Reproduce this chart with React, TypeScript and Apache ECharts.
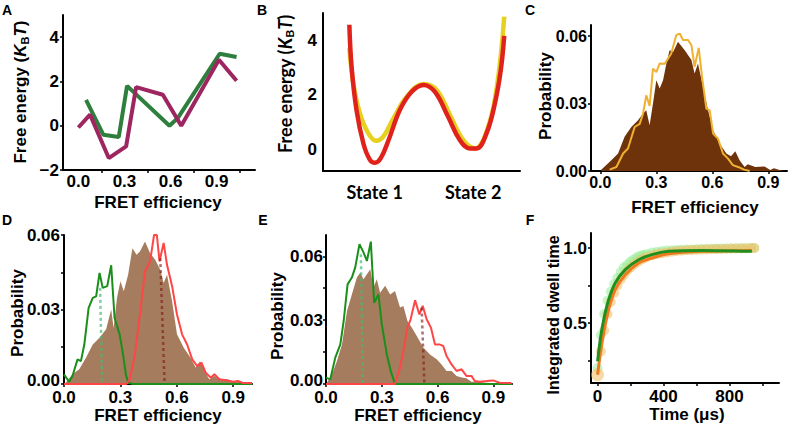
import React, { useEffect, useRef } from "react";
import * as echarts from "echarts";

const FONT = '"Liberation Sans", Arial, Helvetica, sans-serif';
const FONT_B = 'Lato, "Open Sans", sans-serif';

// ---------- Panel A ----------
const aGreen = [[0.05, 1.17], [0.163, -0.41], [0.263, -0.51], [0.317, 1.8], [0.593, 0], [0.648, 0.35], [0.92, 3.25], [1.03, 3.1]];
const aPurple = [[0.0, -0.08], [0.076, 0.5], [0.198, -1.46], [0.311, -0.93], [0.376, 1.74], [0.55, 1.4], [0.67, 0], [0.915, 2.98], [1.03, 2.03]];
const aXLabels = [0, 0.3, 0.6, 0.9];
const aXTicks = [0.15, 0.45, 0.75, 1.05];
const aYLabels = [-2, 0, 2, 4];

// ---------- Panel B ----------
const bRed = [[0.535, 4.57], [0.58, 3.03], [0.68, 1.44], [0.82, 0.21], [0.95, -0.38], [1.056, -0.5], [1.17, -0.34], [1.33, 0.33], [1.56, 1.44], [1.8, 2.11], [2.04, 2.36], [2.27, 2.11], [2.54, 1.19], [2.78, 0.33], [2.98, 0.03], [3.12, 0.03], [3.32, 0.58], [3.49, 1.68], [3.61, 2.91], [3.68, 4.16]];
const bYellow = [[0.535, 3.71], [0.615, 2.42], [0.75, 1.31], [0.92, 0.58], [1.076, 0.31], [1.22, 0.45], [1.43, 1.13], [1.7, 1.93], [2.04, 2.39], [2.31, 2.17], [2.58, 1.25], [2.85, 0.33], [3.09, 0.03], [3.32, 0.64], [3.53, 2.29], [3.68, 4.87]];
const bStates = ["State 1", "State 2"];
const bStatePos = [1.05, 3.05];
const bYLabels = [0, 2, 4];

// ---------- Panel C ----------
const cBrown = [[0.005, 0.0006], [0.059, 0.0048], [0.095, 0.0078], [0.13, 0.0152], [0.166, 0.0196], [0.202, 0.0226], [0.229, 0.0256], [0.246, 0.027], [0.264, 0.0204], [0.282, 0.03], [0.3, 0.0404], [0.318, 0.0367], [0.336, 0.0404], [0.354, 0.0479], [0.371, 0.0538], [0.39, 0.053], [0.416, 0.0575], [0.452, 0.0538], [0.488, 0.0494], [0.505, 0.0434], [0.523, 0.0479], [0.55, 0.0375], [0.577, 0.027], [0.604, 0.0181], [0.639, 0.0122], [0.675, 0.0078], [0.7, 0.0066], [0.723, 0.0088], [0.746, 0.0048], [0.773, 0.0018], [0.79, 0.003], [0.83, 0.0018], [0.88, 0.002], [0.91, 0.0005], [0.93, 0.0012], [0.96, 0.0004], [0.99, 0]];
const cYellow = [[0.05, 0.0006], [0.086, 0.0018], [0.122, 0.0078], [0.148, 0.01], [0.184, 0.0196], [0.211, 0.021], [0.229, 0.0256], [0.246, 0.0337], [0.264, 0.029], [0.282, 0.0456], [0.3, 0.044], [0.318, 0.0479], [0.345, 0.0477], [0.38, 0.0523], [0.407, 0.0605], [0.425, 0.0612], [0.443, 0.0583], [0.47, 0.0583], [0.488, 0.056], [0.505, 0.0464], [0.527, 0.0548], [0.545, 0.0418], [0.568, 0.0278], [0.586, 0.027], [0.604, 0.0167], [0.63, 0.0145], [0.657, 0.0078], [0.684, 0.0055], [0.71, 0.0026], [0.738, 0.0018], [0.77, 0.0006], [0.8, 0]];
const cXLabels = [0, 0.3, 0.6, 0.9];
const cYLabels = [0, 0.03, 0.06];

// ---------- Panel D ----------
const dBrown = [[0.009, 0.0005], [0.045, 0.0039], [0.081, 0.0059], [0.117, 0.0106], [0.153, 0.0159], [0.189, 0.0186], [0.224, 0.022], [0.251, 0.03], [0.264, 0.0226], [0.282, 0.0347], [0.3, 0.0414], [0.318, 0.0373], [0.341, 0.044], [0.364, 0.0547], [0.386, 0.052], [0.404, 0.0534], [0.431, 0.0574], [0.458, 0.0527], [0.485, 0.05], [0.512, 0.046], [0.53, 0.0407], [0.548, 0.044], [0.575, 0.0333], [0.601, 0.02], [0.637, 0.0146], [0.673, 0.0106], [0.7, 0.0066], [0.724, 0.0092], [0.749, 0.0052], [0.772, 0.0019], [0.8, 0.0032], [0.835, 0.0015], [0.87, 0.0019], [0.907, 0.0009], [0.943, 0.0008], [0.978, 0.0003], [1.0, 0.0001]];
const dGreen = [[0, 0.0039], [0.027, 0.0009], [0.045, 0.0032], [0.072, 0.0099], [0.09, 0.0092], [0.108, 0.0159], [0.131, 0.0307], [0.153, 0.0347], [0.171, 0.0353], [0.189, 0.0447], [0.206, 0.0387], [0.23, 0.0394], [0.251, 0.0478], [0.269, 0.0266], [0.296, 0.02], [0.314, 0.0119], [0.329, 0.0039], [0.341, 0.0005], [0.368, 0], [1.0, 0]];
const dRed = [[0, 0], [0.332, 0], [0.35, 0.0019], [0.377, 0.0119], [0.404, 0.028], [0.431, 0.0454], [0.458, 0.0494], [0.479, 0.06], [0.494, 0.06], [0.508, 0.0494], [0.53, 0.0568], [0.548, 0.048], [0.575, 0.0394], [0.601, 0.028], [0.628, 0.02], [0.655, 0.0159], [0.682, 0.0099], [0.709, 0.0072], [0.731, 0.0086], [0.754, 0.0046], [0.781, 0.0025], [0.8, 0.0039], [0.826, 0.0019], [0.862, 0.0015], [0.898, 0.0009], [0.925, 0.0012], [0.951, 0.0004], [1.0, 0.0004]];
const dGreenMark = [[0.192, 0.0387], [0.203, 0]];
const dRedMark = [[0.512, 0.0507], [0.535, 0]];
const dXLabels = [0, 0.3, 0.6, 0.9];
const dYLabels = [0, 0.03, 0.06];

// ---------- Panel E ----------
const eBrown = [[0.005, 0.0006], [0.032, 0.0045], [0.059, 0.0108], [0.086, 0.0186], [0.113, 0.0343], [0.139, 0.0421], [0.166, 0.05], [0.184, 0.0523], [0.202, 0.0492], [0.22, 0.0516], [0.238, 0.0539], [0.255, 0.0453], [0.273, 0.0492], [0.291, 0.0429], [0.318, 0.0461], [0.345, 0.0421], [0.371, 0.0437], [0.398, 0.0359], [0.416, 0.0367], [0.438, 0.0296], [0.461, 0.0265], [0.488, 0.0226], [0.523, 0.0171], [0.559, 0.0139], [0.595, 0.0116], [0.621, 0.0092], [0.648, 0.0061], [0.675, 0.0061], [0.702, 0.0038], [0.729, 0.003], [0.755, 0.0027], [0.782, 0.0011], [0.818, 0.0011], [0.863, 0.0006], [0.916, 0.0003], [0.996, 0.0002]];
const eGreen = [[0, 0.003], [0.023, 0.0022], [0.05, 0.0124], [0.077, 0.0186], [0.095, 0.0296], [0.116, 0.0468], [0.139, 0.05], [0.157, 0.0547], [0.18, 0.0657], [0.202, 0.0617], [0.22, 0.0578], [0.241, 0.0669], [0.259, 0.0382], [0.282, 0.0421], [0.3, 0.028], [0.327, 0.0139], [0.348, 0.0061], [0.371, 0], [1.0, 0]];
const eRed = [[0, 0], [0.371, 0], [0.398, 0.0077], [0.416, 0.0155], [0.438, 0.0265], [0.455, 0.0304], [0.479, 0.0393], [0.502, 0.0327], [0.52, 0.0367], [0.541, 0.0304], [0.564, 0.0265], [0.586, 0.0186], [0.609, 0.0186], [0.63, 0.0179], [0.648, 0.0132], [0.675, 0.0092], [0.702, 0.0061], [0.729, 0.0069], [0.755, 0.0038], [0.782, 0.0038], [0.8, 0.0014], [0.827, 0.0011], [0.863, 0.0014], [0.898, 0.0017], [0.934, 0.0006], [0.996, 0.0005]];
const eGreenMark = [[0.1875, 0.061], [0.198, 0]];
const eRedMark = [[0.514, 0.0359], [0.529, 0]];
const eXLabels = [0, 0.3, 0.6, 0.9];
const eYLabels = [0, 0.03, 0.06];

// ---------- Panel F ----------
const fGreenDots = [[0, 0.2], [20, 0.42], [40, 0.56], [60, 0.65], [80, 0.71], [100, 0.76], [120, 0.8], [140, 0.84], [160, 0.87], [180, 0.89], [200, 0.91], [220, 0.925], [240, 0.94], [260, 0.95], [280, 0.955], [300, 0.96], [330, 0.97], [360, 0.975], [390, 0.98], [420, 0.983], [450, 0.985], [480, 0.987], [510, 0.988], [540, 0.99], [570, 0.99], [600, 0.992], [630, 0.993], [660, 0.994], [690, 0.995], [720, 0.996], [750, 0.997], [780, 0.997], [810, 0.998], [840, 0.998], [870, 0.999], [900, 0.999], [930, 1.0], [950, 1.0]];
const fTanDots = [[0, 0.155], [20, 0.31], [40, 0.45], [60, 0.56], [80, 0.64], [100, 0.7], [120, 0.75], [140, 0.79], [160, 0.82], [180, 0.85], [200, 0.87], [220, 0.89], [240, 0.905], [260, 0.92], [280, 0.93], [300, 0.94], [330, 0.95], [360, 0.96], [390, 0.965], [420, 0.97], [450, 0.975], [480, 0.98], [510, 0.983], [540, 0.985], [570, 0.987], [600, 0.988], [630, 0.99], [660, 0.991], [690, 0.992], [720, 0.993], [750, 0.994], [780, 0.995], [810, 0.996], [840, 0.997], [870, 0.998], [900, 0.999], [930, 1.0], [950, 1.0]];
const fGreenFit = [[0, 0.244], [16, 0.389], [37, 0.522], [67, 0.655], [107, 0.767], [168, 0.856], [249, 0.922], [329, 0.956], [430, 0.978], [632, 0.984], [935, 0.978]];
const fOrangeFit = [[0, 0.155], [16, 0.289], [37, 0.433], [67, 0.589], [107, 0.722], [168, 0.822], [249, 0.9], [329, 0.933], [430, 0.962], [632, 0.978], [935, 0.984]];
const fXLabels = [0, 400, 800];
const fXTicks = [0, 200, 400, 600, 800, 1000];
const fYLabels = [0.5, 1.0];
const fYTicks = [0.25, 0.5, 0.75, 1.0];

function axis(o: any) {
  return {
    gridIndex: o.grid,
    type: "value",
    min: o.min,
    max: o.max,
    axisLine: { show: true, onZero: false, lineStyle: { color: "#000", width: 2 } },
    axisTick: o.ticks
      ? { show: true, inside: false, length: 3, customValues: o.ticks, lineStyle: { color: "#000", width: 1.5 } }
      : { show: false },
    axisLabel: o.labels
      ? {
          show: true,
          customValues: o.labels,
          formatter: o.fmt,
          margin: o.margin,
          color: "#000",
          fontSize: o.fs,
          fontWeight: "bold",
          fontFamily: o.ff || FONT,
          ...(o.rich ? { rich: o.rich } : {}),
        }
      : { show: false },
    splitLine: { show: false },
  };
}

const f1 = (v: number) => Number(v).toFixed(1);
const f2 = (v: number) => Number(v).toFixed(2);
// zero label lifted slightly so it clears the x-axis "0.0" label
const f2z = (v: number) => (Number(v) === 0 ? "{z|0.00}" : Number(v).toFixed(2));
const zRich = { z: { padding: [0, 0, 8, 0], fontSize: 17, fontWeight: "bold", fontFamily: FONT, color: "#000" } };
const stateFmt = (v: number) => (Number(v) < bStatePos[1] - 0.5 ? bStates[0] : bStates[1]);

function line(x: number, data: any, color: string, width: number, extra: any = {}) {
  return {
    type: "line",
    xAxisIndex: x,
    yAxisIndex: x,
    data,
    symbol: "none",
    showSymbol: false,
    lineStyle: { color, width },
    silent: true,
    ...extra,
  };
}

function area(x: number, data: any, color: string) {
  return {
    type: "line",
    xAxisIndex: x,
    yAxisIndex: x,
    data,
    symbol: "none",
    showSymbol: false,
    lineStyle: { width: 0, color },
    areaStyle: { color, opacity: 1 },
    silent: true,
  };
}

function txt(x: number, y: number, text: string, fs: number, rot = 0, ff = FONT) {
  return {
    type: "text",
    x,
    y,
    rotation: rot,
    style: { text, fill: "#000", fontSize: fs, fontWeight: "bold", fontFamily: ff, align: "center", verticalAlign: "middle" },
  };
}

function kbt(x: number, y: number, fs: number, ff: string) {
  return {
    type: "text",
    x,
    y,
    rotation: Math.PI / 2,
    style: {
      text: "{n|Free energy (}{i|K}{s|B}{i|T}{n|)}",
      fill: "#000",
      align: "center",
      verticalAlign: "middle",
      rich: {
        n: { fontSize: fs, fontWeight: "bold", fontFamily: ff, lineHeight: fs + 3, fill: "#000" },
        i: { fontSize: fs, fontWeight: "bold", fontStyle: "italic", fontFamily: ff, lineHeight: fs + 3, fill: "#000" },
        s: { fontSize: Math.round(fs * 0.65), fontWeight: "bold", fontFamily: ff, lineHeight: Math.round(fs * 0.65), verticalAlign: "bottom", fill: "#000" },
      },
    },
  };
}

export default function App() {
  const ref = useRef<HTMLDivElement>(null);
  useEffect(() => {
    document.body.style.margin = "0";
    const chart = echarts.init(ref.current!, null, { renderer: "svg" });
    const option: any = {
      animation: false,
      backgroundColor: "#fff",
      grid: [
        { left: 63, top: 15, width: 192, height: 155 },
        { left: 323, top: 13, width: 197, height: 158 },
        { left: 591, top: 25, width: 196, height: 146 },
        { left: 64, top: 235, width: 188, height: 149 },
        { left: 326, top: 235, width: 186, height: 149 },
        { left: 591, top: 233, width: 188, height: 150 },
      ],
      xAxis: [
        axis({ grid: 0, min: -0.1, max: 1.15, labels: aXLabels, ticks: aXTicks, fmt: f1, fs: 17, margin: 3 }),
        axis({ grid: 1, min: 0, max: 4, labels: bStatePos, fmt: stateFmt, fs: 18, margin: 12, ff: FONT_B }),
        axis({ grid: 2, min: -0.05, max: 1.0, labels: cXLabels, ticks: cXLabels, fmt: f1, fs: 16, margin: 3 }),
        axis({ grid: 3, min: 0, max: 1.0, labels: dXLabels, ticks: dXLabels, fmt: f1, fs: 17, margin: 5 }),
        axis({ grid: 4, min: 0, max: 1.0, labels: eXLabels, ticks: eXLabels, fmt: f1, fs: 17, margin: 5 }),
        axis({ grid: 5, min: -40, max: 1100, labels: fXLabels, ticks: fXTicks, fmt: (v: number) => String(v), fs: 17, margin: 5 }),
      ],
      yAxis: [
        axis({ grid: 0, min: -2, max: 5, labels: aYLabels, ticks: aYLabels, fmt: (v: number) => (v < 0 ? "\u2212" + Math.abs(v) : String(v)), fs: 17, margin: 4 }),
        axis({ grid: 1, min: -0.8, max: 5, labels: bYLabels, fmt: (v: number) => String(v), fs: 17, margin: 6 }),
        axis({ grid: 2, min: 0, max: 0.065, labels: cYLabels, ticks: cYLabels, fmt: f2, fs: 16, margin: 4 }),
        axis({ grid: 3, min: 0, max: 0.06, labels: dYLabels, ticks: [0, 0.015, 0.03, 0.045, 0.06], fmt: f2z, rich: zRich, fs: 17, margin: 4 }),
        axis({ grid: 4, min: 0, max: 0.07, labels: eYLabels, ticks: [0, 0.015, 0.03, 0.045, 0.06], fmt: f2z, rich: zRich, fs: 17, margin: 3 }),
        axis({ grid: 5, min: 0.1, max: 1.1, labels: fYLabels, ticks: fYTicks, fmt: f1, fs: 17, margin: 4 }),
      ],
      series: [
        line(0, aGreen, "#2e7f3e", 4),
        line(0, aPurple, "#9e2660", 4),
        line(1, bYellow, "#e6d020", 4.5, { smooth: 0.4 }),
        line(1, bRed, "#e0221c", 4.5, { smooth: 0.4 }),
        area(2, cBrown, "#6e330b"),
        line(2, cYellow, "#f0b030", 2),
        area(3, dBrown, "#a57c5d"),
        line(3, dGreen, "#1a8f1a", 2),
        line(3, dRed, "#ff4646", 2),
        line(3, dGreenMark, "", 2.5, { lineStyle: { color: "rgba(70,185,120,0.7)", width: 2.5, type: [3, 3] } }),
        line(3, dRedMark, "", 2.5, { lineStyle: { color: "rgba(130,30,30,0.65)", width: 2.5, type: [3, 3] } }),
        area(4, eBrown, "#a57c5d"),
        line(4, eGreen, "#1a8f1a", 2),
        line(4, eRed, "#ff4646", 2),
        line(4, eGreenMark, "", 2.5, { lineStyle: { color: "rgba(70,185,120,0.7)", width: 2.5, type: [3, 3] } }),
        line(4, eRedMark, "", 2.5, { lineStyle: { color: "rgba(130,30,30,0.65)", width: 2.5, type: [3, 3] } }),
        {
          type: "scatter", xAxisIndex: 5, yAxisIndex: 5, data: fGreenDots, symbolSize: 10, silent: true,
          itemStyle: { color: "rgba(140,235,140,0.6)" },
        },
        {
          type: "scatter", xAxisIndex: 5, yAxisIndex: 5, data: fTanDots, silent: true,
          symbolSize: (v: any, p: any) => (p && p.dataIndex === 0 ? 13 : 10),
          itemStyle: { color: "rgba(240,195,110,0.75)" },
        },
        line(5, fOrangeFit, "#f27a1e", 3, { smooth: 0.3 }),
        line(5, fGreenFit, "#1f8f1f", 3, { smooth: 0.3 }),
      ],
      graphic: [
        txt(7, 10, "A", 14),
        txt(262, 10, "B", 14),
        txt(530, 10, "C", 14),
        txt(7, 220, "D", 14),
        txt(263, 220, "E", 14),
        txt(530, 220, "F", 14),
        txt(158, 202, "FRET efficiency", 17),
        txt(695, 207, "FRET efficiency", 17),
        txt(158, 415, "FRET efficiency", 17),
        txt(418, 415, "FRET efficiency", 17),
        txt(687, 414, "Time (\u03bcs)", 17),
        kbt(20, 92, 17, FONT),
        kbt(285, 84, 18, FONT_B),
        txt(545, 96, "Probability", 17, Math.PI / 2),
        txt(17, 313, "Probability", 17, Math.PI / 2),
        txt(277, 316, "Probability", 17, Math.PI / 2),
        txt(553, 315, "Integrated dwell time", 16, Math.PI / 2),
      ],
    };
    chart.setOption(option);
    return () => chart.dispose();
  }, []);
  return <div ref={ref} style={{ width: 788, height: 425 }} />;
}
